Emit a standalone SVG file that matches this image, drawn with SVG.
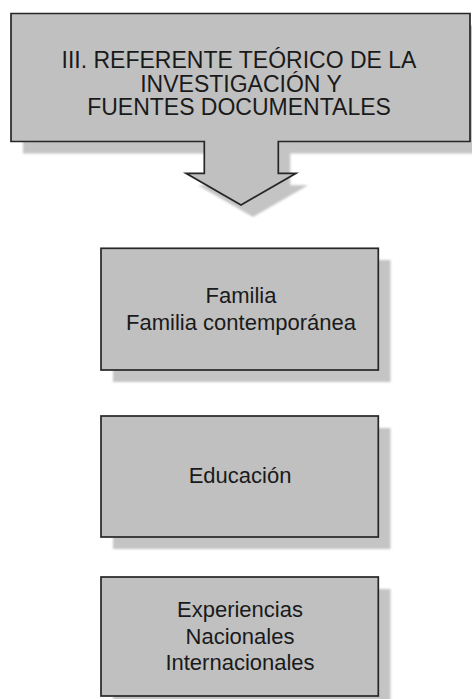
<svg xmlns="http://www.w3.org/2000/svg" width="472" height="699" viewBox="0 0 472 699">
<defs>
<filter id="blur" x="-10%" y="-10%" width="120%" height="120%"><feGaussianBlur stdDeviation="0.8"/></filter>
<style>
.shape{fill:#c0c0c0;stroke:#262626;stroke-width:1.7}
.shadow{fill:#c4c4c4;filter:url(#blur)}
text{font-family:"Liberation Sans",Arial,sans-serif;font-size:22px;fill:#1a1a1a;text-anchor:middle}
.big{font-size:23px}
</style>
</defs>
<rect width="472" height="699" fill="#ffffff"/>
<g id="header">
<path class="shadow" d="M23,25.5 H482 V153.5 H290.3 V185.3 H308 L253,217 L198,185.3 H216.3 V153.5 H23 Z"/>
<path class="shape" d="M11,13.5 H470 V141.5 H278.3 V173.3 H296 L241,205 L186,173.3 H204.3 V141.5 H11 Z"/>
<text class="big" x="239" y="68">III. REFERENTE TEÓRICO DE LA</text>
<text class="big" x="241" y="91.5">INVESTIGACIÓN Y</text>
<text class="big" x="239" y="115">FUENTES DOCUMENTALES</text>
</g>
<g id="familia">
<rect class="shadow" x="113" y="260" width="277.5" height="122"/>
<rect class="shape" x="101" y="248.3" width="277.3" height="121.7"/>
<text x="241" y="303">Familia</text>
<text x="241" y="330">Familia contemporánea</text>
</g>
<g id="educacion">
<rect class="shadow" x="113" y="428" width="277.5" height="121"/>
<rect class="shape" x="101" y="416" width="277.3" height="121"/>
<text x="240" y="483">Educación</text>
</g>
<g id="experiencias">
<rect class="shadow" x="113" y="589" width="277.5" height="119"/>
<rect class="shape" x="101" y="577" width="277.3" height="119"/>
<text x="240" y="617">Experiencias</text>
<text x="240" y="643.5">Nacionales</text>
<text x="240" y="670">Internacionales</text>
</g>
<g id="connectors"></g>
</svg>
